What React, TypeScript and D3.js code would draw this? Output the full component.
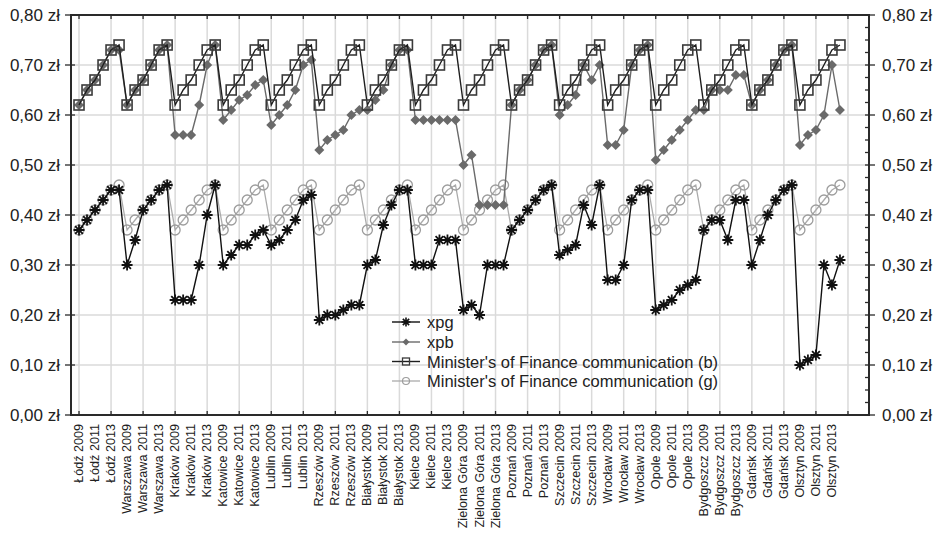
import React from "react";
import * as d3 from "d3";

// Cities in plotting order; each has six yearly observations (2009–2014)
const cities = [
  "Łódź", "Warszawa", "Kraków", "Katowice", "Lublin", "Rzeszów", "Białystok", "Kielce",
  "Zielona Góra", "Poznań", "Szczecin", "Wrocław", "Opole", "Bydgoszcz", "Gdańsk", "Olsztyn",
];
const years = [2009, 2010, 2011, 2012, 2013, 2014];

// xpg per city (zł)
const xpg = [
  [0.37, 0.39, 0.41, 0.43, 0.45, 0.45],
  [0.30, 0.35, 0.41, 0.43, 0.45, 0.46],
  [0.23, 0.23, 0.23, 0.30, 0.40, 0.46],
  [0.30, 0.32, 0.34, 0.34, 0.36, 0.37],
  [0.34, 0.35, 0.37, 0.39, 0.43, 0.44],
  [0.19, 0.20, 0.20, 0.21, 0.22, 0.22],
  [0.30, 0.31, 0.38, 0.42, 0.45, 0.45],
  [0.30, 0.30, 0.30, 0.35, 0.35, 0.35],
  [0.21, 0.22, 0.20, 0.30, 0.30, 0.30],
  [0.37, 0.39, 0.41, 0.43, 0.45, 0.46],
  [0.32, 0.33, 0.34, 0.42, 0.38, 0.46],
  [0.27, 0.27, 0.30, 0.43, 0.45, 0.45],
  [0.21, 0.22, 0.23, 0.25, 0.26, 0.27],
  [0.37, 0.39, 0.39, 0.35, 0.43, 0.43],
  [0.30, 0.35, 0.40, 0.43, 0.45, 0.46],
  [0.10, 0.11, 0.12, 0.30, 0.26, 0.31],
];

// xpb per city (zł)
const xpb = [
  [0.62, 0.65, 0.67, 0.70, 0.73, 0.73],
  [0.62, 0.65, 0.67, 0.70, 0.73, 0.74],
  [0.56, 0.56, 0.56, 0.62, 0.70, 0.74],
  [0.59, 0.61, 0.63, 0.64, 0.66, 0.67],
  [0.58, 0.60, 0.62, 0.65, 0.70, 0.71],
  [0.53, 0.55, 0.56, 0.57, 0.60, 0.61],
  [0.61, 0.63, 0.65, 0.70, 0.73, 0.73],
  [0.59, 0.59, 0.59, 0.59, 0.59, 0.59],
  [0.50, 0.52, 0.42, 0.42, 0.42, 0.42],
  [0.62, 0.65, 0.67, 0.70, 0.73, 0.74],
  [0.60, 0.62, 0.64, 0.70, 0.67, 0.70],
  [0.54, 0.54, 0.57, 0.70, 0.73, 0.74],
  [0.51, 0.53, 0.55, 0.57, 0.59, 0.61],
  [0.61, 0.65, 0.65, 0.65, 0.68, 0.68],
  [0.62, 0.65, 0.67, 0.70, 0.73, 0.74],
  [0.54, 0.56, 0.57, 0.60, 0.70, 0.61],
];

// Minister of Finance communication rates, (b) and (g), by year
const ministerB = [0.62, 0.65, 0.67, 0.70, 0.73, 0.74];
const ministerG = [0.37, 0.39, 0.41, 0.43, 0.45, 0.46];

const yTicks = [0, 0.1, 0.2, 0.3, 0.4, 0.5, 0.6, 0.7, 0.8];

const W = 938;
const H = 533;
const FONT = "'Liberation Sans', Arial, Helvetica, sans-serif";

type Pt = { i: number; v: number };

export default function App() {
  const left = 71, right = 869, top = 15, bottom = 415;
  const categories = cities.flatMap((c) => years.map((y) => `${c} ${y}`));
  const n = categories.length;

  const x = d3.scaleLinear().domain([-1, 98.625]).range([left, right]);
  const y = d3.scaleLinear().domain([0, 0.8]).range([bottom, top]);

  const flat = (rows: number[][]): Pt[] => rows.flat().map((v, i) => ({ i, v }));
  const perCity = (vals: number[]): Pt[] =>
    cities.flatMap((_, ci) => vals.map((v, k) => ({ i: ci * years.length + k, v })));

  const sXpg = flat(xpg);
  const sXpb = flat(xpb);
  const sB = perCity(ministerB);
  const sG = perCity(ministerG);

  const line = d3
    .line<Pt>()
    .x((d) => x(d.i))
    .y((d) => y(d.v));

  const gridIdx = d3.range(0, 97, 4);
  const labelIdx = d3.range(0, n, 2);
  const minorY = d3.range(0, 0.8001, 0.025).filter((v) => Math.abs(v * 10 - Math.round(v * 10)) > 1e-6);

  const fmt = (v: number) => v.toFixed(2).replace(".", ",") + " zł";

  const star = (cx: number, cy: number, r: number) => {
    const a = r * Math.SQRT1_2;
    return `M${cx - r},${cy}L${cx + r},${cy}M${cx},${cy - r}L${cx},${cy + r}` +
      `M${cx - a},${cy - a}L${cx + a},${cy + a}M${cx - a},${cy + a}L${cx + a},${cy - a}`;
  };
  const diamond = (cx: number, cy: number, r: number) =>
    `M${cx},${cy - r}L${cx + r},${cy}L${cx},${cy + r}L${cx - r},${cy}Z`;

  const cG = "#ababab";
  const cB = "#1e1e1e";
  const cXpb = "#6a6a6a";
  const cXpg = "#111";

  const legend = [
    { label: "xpg", kind: "star" },
    { label: "xpb", kind: "diamond" },
    { label: "Minister's of Finance communication (b)", kind: "square" },
    { label: "Minister's of Finance communication (g)", kind: "circle" },
  ];
  const legY = [322, 342, 361.5, 381];

  return (
    <svg
      width={W}
      height={H}
      viewBox={`0 0 ${W} ${H}`}
      style={{ position: "absolute", left: 0, top: 0, background: "#fff" }}
      fontFamily={FONT}
    >
      <rect x={0} y={0} width={W} height={H} fill="#fff" />
      {/* grid */}
      <g stroke="#dadada" strokeWidth={1.5}>
        {yTicks.slice(1, -1).map((t) => (
          <line key={"h" + t} x1={left} x2={right} y1={y(t)} y2={y(t)} />
        ))}
        {gridIdx.map((i) => (
          <line key={"v" + i} x1={x(i)} x2={x(i)} y1={top} y2={bottom} />
        ))}
      </g>

      {/* Minister (g) */}
      <path d={line(sG) || ""} fill="none" stroke={cG} strokeWidth={1.3} />
      <g fill="none" stroke="#9d9d9d" strokeWidth={1.3}>
        {sG.map((d) => (
          <circle key={d.i} cx={x(d.i)} cy={y(d.v)} r={5} />
        ))}
      </g>

      {/* xpb */}
      <path d={line(sXpb) || ""} fill="none" stroke={cXpb} strokeWidth={1.4} />
      <g fill={cXpb}>
        {sXpb.map((d) => (
          <path key={d.i} d={diamond(x(d.i), y(d.v), 5)} />
        ))}
      </g>

      {/* Minister (b) */}
      <path d={line(sB) || ""} fill="none" stroke={cB} strokeWidth={1.4} />
      <g fill="none" stroke="#3a3a3a" strokeWidth={1.6}>
        {sB.map((d) => (
          <rect key={d.i} x={x(d.i) - 5} y={y(d.v) - 5} width={10} height={10} />
        ))}
      </g>

      {/* xpg */}
      <path d={line(sXpg) || ""} fill="none" stroke={cXpg} strokeWidth={1.4} />
      <g stroke={cXpg} strokeWidth={1.8} fill="none">
        {sXpg.map((d) => (
          <path key={d.i} d={star(x(d.i), y(d.v), 5.5)} />
        ))}
      </g>

      {/* frame and ticks */}
      <rect x={left} y={top} width={right - left} height={bottom - top} fill="none" stroke="#2a2a2a" strokeWidth={2} />
      <g stroke="#2a2a2a" strokeWidth={1.3}>
        {yTicks.map((t) => (
          <g key={"yt" + t}>
            <line x1={left - 6} x2={left + 4} y1={y(t)} y2={y(t)} />
            <line x1={right - 4} x2={right + 6} y1={y(t)} y2={y(t)} />
          </g>
        ))}
        {minorY.map((t) => (
          <line key={"my" + t} x1={right - 4} x2={right} y1={y(t)} y2={y(t)} />
        ))}
        {gridIdx.map((i) => (
          <g key={"xt" + i}>
            <line x1={x(i)} x2={x(i)} y1={top} y2={top + 4} />
            <line x1={x(i)} x2={x(i)} y1={bottom} y2={bottom - 4} />
          </g>
        ))}
      </g>

      {/* y labels */}
      <g fontSize={17} fill="#222">
        {yTicks.map((t) => (
          <g key={"yl" + t}>
            <text x={left - 11} y={y(t)} textAnchor="end" dominantBaseline="central">
              {fmt(t)}
            </text>
            <text x={right + 13} y={y(t)} textAnchor="start" dominantBaseline="central">
              {fmt(t)}
            </text>
          </g>
        ))}
      </g>

      {/* x labels */}
      <g fontSize={12.6} fill="#222">
        {labelIdx.map((i) => (
          <text
            key={"xl" + i}
            transform={`translate(${x(i)},${bottom + 9}) rotate(-90)`}
            textAnchor="end"
            dominantBaseline="central"
          >
            {categories[i]}
          </text>
        ))}
      </g>

      {/* legend */}
      <g>
        {legend.map((l, k) => {
          const ly = legY[k];
          const mx = 406;
          return (
            <g key={l.label}>
              {l.kind === "star" && (
                <>
                  <line x1={392} x2={420} y1={ly} y2={ly} stroke={cXpg} strokeWidth={1.4} />
                  <path d={star(mx, ly, 4.5)} stroke={cXpg} strokeWidth={1.6} />
                </>
              )}
              {l.kind === "diamond" && (
                <>
                  <line x1={392} x2={420} y1={ly} y2={ly} stroke={cXpb} strokeWidth={1.4} />
                  <path d={diamond(mx, ly, 3.5)} fill={cXpb} />
                </>
              )}
              {l.kind === "square" && (
                <>
                  <line x1={392} x2={420} y1={ly} y2={ly} stroke={cB} strokeWidth={1.4} />
                  <rect x={mx - 3.5} y={ly - 3.5} width={7} height={7} fill="none" stroke="#3a3a3a" strokeWidth={1.3} />
                </>
              )}
              {l.kind === "circle" && (
                <>
                  <line x1={392} x2={420} y1={ly} y2={ly} stroke={cG} strokeWidth={1.3} />
                  <circle cx={mx} cy={ly} r={3.5} fill="none" stroke="#9d9d9d" strokeWidth={1.2} />
                </>
              )}
              <text x={427} y={ly} fontSize={16.5} fill="#222" dominantBaseline="central">
                {l.label}
              </text>
            </g>
          );
        })}
      </g>
    </svg>
  );
}
